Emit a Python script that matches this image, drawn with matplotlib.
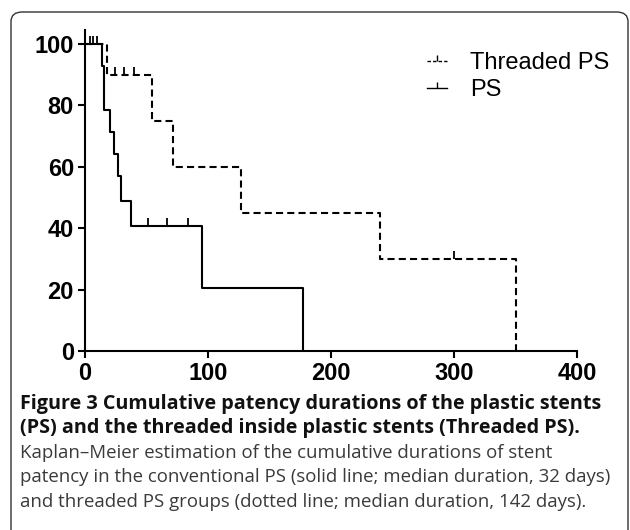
#!/usr/bin/env python3
"""Kaplan-Meier patency curves: plastic stents vs threaded inside plastic stents."""

import matplotlib

matplotlib.use("Agg")
import matplotlib.pyplot as plt
from matplotlib.lines import Line2D
from matplotlib.patches import FancyBboxPatch

# Step curves (days, cumulative patency %)
PS_TIMES = [0, 14, 15.5, 20, 23.5, 26.5, 29.5, 37, 95, 177]
PS_SURV = [100, 92.86, 78.57, 71.43, 64.29, 57.14, 48.98, 40.82, 20.41, 0]
PS_CENSOR_T = [4, 6.5, 9.5, 51, 67, 83.5]
PS_CENSOR_S = [100, 100, 100, 40.82, 40.82, 40.82]

TPS_TIMES = [0, 18, 54.5, 71.5, 127, 240, 350]
TPS_SURV = [100, 90, 75, 60, 45, 30, 0]
TPS_CENSOR_T = [24, 31.5, 39.5, 300]
TPS_CENSOR_S = [90, 90, 90, 30]

SERIES_LABELS = ["Threaded PS", "PS"]
X_TICKS = [0, 100, 200, 300, 400]
Y_TICKS = [0, 20, 40, 60, 80, 100]

CAPTION_BOLD = [
    "Figure 3 Cumulative patency durations of the plastic stents",
    "(PS) and the threaded inside plastic stents (Threaded PS).",
]
CAPTION_PLAIN = [
    "Kaplan\u2013Meier estimation of the cumulative durations of stent",
    "patency in the conventional PS (solid line; median duration, 32 days)",
    "and threaded PS groups (dotted line; median duration, 142 days).",
]

W, H = 630, 530
DASH = (0, (3.4, 2.0))
TICK_MARK = [(0, 0), (0, 1)]  # censor tick rising from the curve


def main() -> None:
    fig = plt.figure(figsize=(W / 100, H / 100), dpi=100)
    fig.patch.set_facecolor("white")

    # rounded frame around the figure panel
    frame = FancyBboxPatch(
        (11 / W, -0.2),
        (628 - 11) / W,
        1.2 - 12 / H,
        boxstyle="round,pad=0,rounding_size=0.018",
        transform=fig.transFigure,
        facecolor="none",
        edgecolor="#333333",
        linewidth=1.0,
        clip_on=False,
    )
    fig.patches.append(frame)

    ax = fig.add_axes([85 / W, 1 - 351 / H, (577 - 85) / W, (351 - 30) / H])

    ax.step(TPS_TIMES, TPS_SURV, where="post", color="black", linewidth=1.5,
            linestyle=DASH, dash_capstyle="butt")
    ax.step(PS_TIMES, PS_SURV, where="post", color="black", linewidth=1.5)
    ax.plot(TPS_CENSOR_T, TPS_CENSOR_S, linestyle="none", marker=TICK_MARK,
            markersize=11, markeredgewidth=1.3, color="black")
    ax.plot(PS_CENSOR_T, PS_CENSOR_S, linestyle="none", marker=TICK_MARK,
            markersize=11, markeredgewidth=1.3, color="black")

    ax.set_xlim(0, 400)
    ax.set_ylim(0, 104.6)
    ax.set_xticks(X_TICKS)
    ax.set_yticks(Y_TICKS)
    for side in ("top", "right"):
        ax.spines[side].set_visible(False)
    for side in ("left", "bottom"):
        ax.spines[side].set_linewidth(1.5)
    ax.tick_params(direction="out", length=5, width=1.5, pad=3)
    for lab in ax.get_xticklabels() + ax.get_yticklabels():
        lab.set_fontfamily("Liberation Sans")
        lab.set_fontweight("bold")
        lab.set_fontsize(17)

    handles = [
        Line2D([0], [0], color="black", linewidth=1.0, linestyle=(0, (2.5, 1.5)),
               marker=TICK_MARK, markersize=9, markeredgewidth=1.0),
        Line2D([0], [0], color="black", linewidth=1.0,
               marker=TICK_MARK, markersize=9, markeredgewidth=1.0),
    ]
    fig.legend(
        handles, SERIES_LABELS,
        loc="upper left",
        bbox_to_anchor=(406 / W, 1 - 31 / H),
        frameon=False,
        handlelength=0.83,
        handletextpad=1.0,
        labelspacing=0.2,
        prop={"family": "Liberation Sans", "size": 17},
    )

    y = 404
    for line in CAPTION_BOLD:
        fig.text(20 / W, 1 - y / H, line, fontfamily="Open Sans", fontweight="bold",
                 fontsize=14.2, va="center", ha="left", color="#111111")
        y += 24.5
    for line in CAPTION_PLAIN:
        fig.text(20 / W, 1 - y / H, line, fontfamily="Open Sans", fontweight="normal",
                 fontsize=13.4, va="center", ha="left", color="#3a3a3a")
        y += 24.5

    fig.savefig("out.png", dpi=100, facecolor="white")
    plt.close(fig)


if __name__ == "__main__":
    main()
